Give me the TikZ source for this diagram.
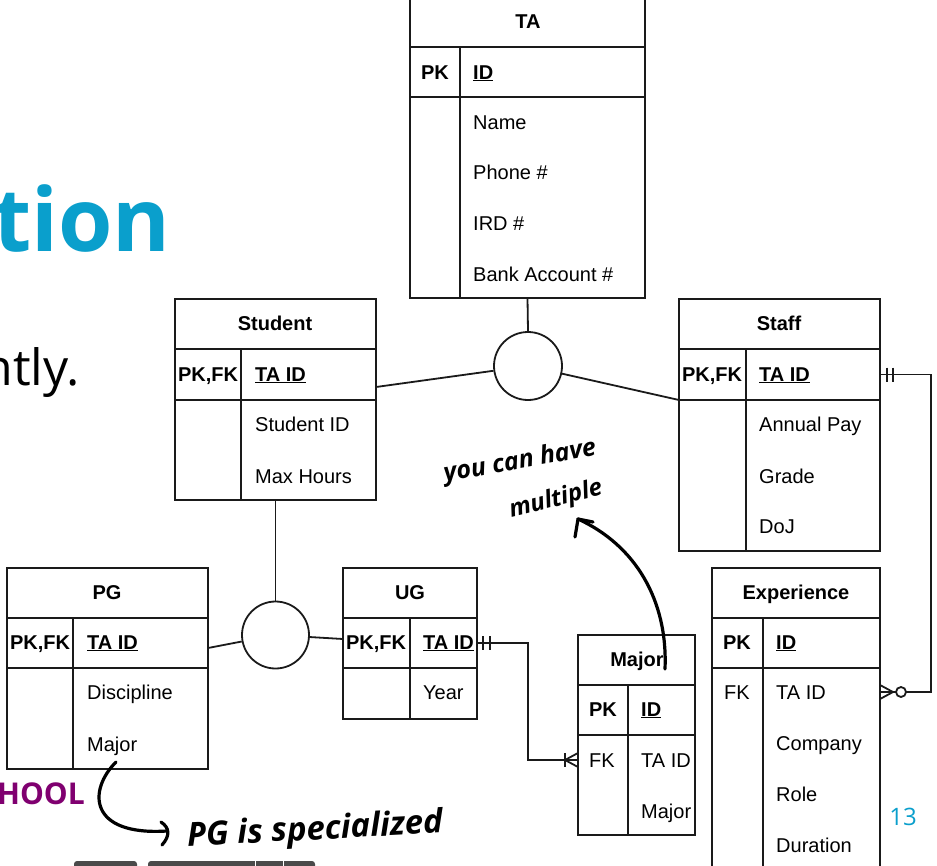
\documentclass[tikz,border=0pt]{standalone}
\usepackage{fontspec}
\setmainfont{Liberation Sans}
\newfontfamily\osans{Open Sans}
\usetikzlibrary{calc}
\definecolor{ln}{HTML}{1A1A1A}
\definecolor{cy}{HTML}{0A9FCC}
\definecolor{pu}{HTML}{800070}
\definecolor{tabc}{HTML}{4A4A4A}
\begin{document}
\begin{tikzpicture}[x=1pt,y=-1pt,
  box/.style={draw=ln,line width=1.8pt,anchor=north west,inner sep=0pt,outer sep=0pt},
  ttl/.style={font=\fontsize{20}{24}\selectfont\bfseries,inner sep=0pt,anchor=base},
  fld/.style={font=\fontsize{20}{24}\selectfont,inner sep=0pt,anchor=base west},
  con/.style={draw=ln,line width=1.8pt},
  hand/.style={font=\osans\bfseries\itshape,inner sep=0pt,text=black},
  hline/.style={draw=black,line width=3.2pt,line cap=round,line join=round}]
\useasboundingbox (0,0) rectangle (937,865);
\clip (0,0) rectangle (937,865);
\fill[white] (0,0) rectangle (937,865);

% background slide text
\node[font=\osans\bfseries\fontsize{88}{90}\selectfont,text=cy,inner sep=0pt,anchor=base east] (tion) at (171,251) {tion};
\node[font=\osans\fontsize{50}{52}\selectfont,inner sep=0pt,anchor=base east] (ntly) at (80,385) {ntly.};
\node[font=\osans\bfseries\fontsize{30}{32}\selectfont,text=pu,inner sep=0pt,anchor=base east] (hool) at (85,804) {HOOL};
\node[font=\osans\fontsize{24}{26}\selectfont,text=cy,inner sep=0pt,anchor=base] (pnum) at (903,825) {13};
\fill[tabc,rounded corners=3pt] (74,861) rectangle (137,875);
\fill[tabc,rounded corners=3pt] (148,861) rectangle (315,875);
\draw[white,line width=0.8pt] (255,861) -- (255,866) (283,861) -- (283,866);

% TA
\node[box,minimum width=235pt,minimum height=50pt] (tahdr) at (410,-3) {};
\node[box,minimum width=235pt,minimum height=50pt] (tapk) at (410,47) {};
\node[box,minimum width=235pt,minimum height=201pt] (tabody) at (410,97) {};
\draw[con] (460,47) -- (460,298);
\node[ttl] (tat) at (528,28) {TA};
\node[ttl] (tak) at (435,79) {PK};
\node[fld,font=\fontsize{20}{24}\selectfont\bfseries] (taid) at (473,79) {\underline{ID}};
\node[fld] (ta1) at (473,129) {Name};
\node[fld] (ta2) at (473,179) {Phone \#};
\node[fld] (ta3) at (473,230) {IRD \#};
\node[fld] (ta4) at (473,281) {Bank Account \#};

% Student
\node[box,minimum width=201pt,minimum height=50pt] (sthdr) at (175,299) {};
\node[box,minimum width=201pt,minimum height=51pt] (stpk) at (175,349) {};
\node[box,minimum width=201pt,minimum height=100pt] (stbody) at (175,400) {};
\draw[con] (241,349) -- (241,500);
\node[ttl] (stt) at (275,330) {Student};
\node[ttl] (stk) at (208,381) {PK,FK};
\node[fld,font=\fontsize{20}{24}\selectfont\bfseries] (stid) at (255,381) {\underline{TA ID}};
\node[fld] (st1) at (255,431) {Student ID};
\node[fld] (st2) at (255,483) {Max Hours};

% Staff
\node[box,minimum width=201pt,minimum height=50pt] (sfhdr) at (679,299) {};
\node[box,minimum width=201pt,minimum height=51pt] (sfpk) at (679,349) {};
\node[box,minimum width=201pt,minimum height=151pt] (sfbody) at (679,400) {};
\draw[con] (746,349) -- (746,551);
\node[ttl] (sft) at (779,330) {Staff};
\node[ttl] (sfk) at (712,381) {PK,FK};
\node[fld,font=\fontsize{20}{24}\selectfont\bfseries] (sfid) at (759,381) {\underline{TA ID}};
\node[fld] (sf1) at (759,431) {Annual Pay};
\node[fld] (sf2) at (759,483) {Grade};
\node[fld] (sf3) at (759,533) {DoJ};

% PG
\node[box,minimum width=201pt,minimum height=50pt] (pghdr) at (7,568) {};
\node[box,minimum width=201pt,minimum height=50pt] (pgpk) at (7,618) {};
\node[box,minimum width=201pt,minimum height=101pt] (pgbody) at (7,668) {};
\draw[con] (73,618) -- (73,769);
\node[ttl] (pgt) at (107,599) {PG};
\node[ttl] (pgk) at (40,649) {PK,FK};
\node[fld,font=\fontsize{20}{24}\selectfont\bfseries] (pgid) at (87,649) {\underline{TA ID}};
\node[fld] (pg1) at (87,699) {Discipline};
\node[fld] (pg2) at (87,751) {Major};

% UG
\node[box,minimum width=134pt,minimum height=50pt] (ughdr) at (343,568) {};
\node[box,minimum width=134pt,minimum height=50pt] (ugpk) at (343,618) {};
\node[box,minimum width=134pt,minimum height=51pt] (ugbody) at (343,668) {};
\draw[con] (410,618) -- (410,719);
\node[ttl] (ugt) at (410,599) {UG};
\node[ttl] (ugk) at (376,649) {PK,FK};
\node[fld,font=\fontsize{20}{24}\selectfont\bfseries] (ugid) at (423,649) {\underline{TA ID}};
\node[fld] (ug1) at (423,699) {Year};

% Major
\node[box,minimum width=117pt,minimum height=50pt] (mjhdr) at (578,635) {};
\node[box,minimum width=117pt,minimum height=50pt] (mjpk) at (578,685) {};
\node[box,minimum width=117pt,minimum height=100pt] (mjbody) at (578,735) {};
\draw[con] (628,685) -- (628,835);
\node[ttl] (mjt) at (637,666) {Major};
\node[ttl] (mjk) at (603,716) {PK};
\node[fld,font=\fontsize{20}{24}\selectfont\bfseries] (mjid) at (641,716) {\underline{ID}};
\node[ttl,font=\fontsize{20}{24}\selectfont] (mjf) at (602,767) {FK};
\node[fld] (mj1) at (641,767) {TA ID};
\node[fld] (mj2) at (641,818) {Major};

% Experience
\node[box,minimum width=168pt,minimum height=50pt] (exhdr) at (712,568) {};
\node[box,minimum width=168pt,minimum height=50pt] (expk) at (712,618) {};
\node[box,minimum width=168pt,minimum height=230pt] (exbody) at (712,668) {};
\draw[con] (763,618) -- (763,900);
\node[ttl] (ext) at (796,599) {Experience};
\node[ttl] (exk) at (737,649) {PK};
\node[fld,font=\fontsize{20}{24}\selectfont\bfseries] (exid) at (776,649) {\underline{ID}};
\node[ttl,font=\fontsize{20}{24}\selectfont] (exf) at (737,699) {FK};
\node[fld] (ex1) at (776,699) {TA ID};
\node[fld] (ex2) at (776,750) {Company};
\node[fld] (ex3) at (776,801) {Role};
\node[fld] (ex4) at (776,852) {Duration};

% specialisation circles
\node[circle,draw=ln,line width=1.8pt,minimum size=68pt,inner sep=0pt] (c1) at (528,366) {};
\node[circle,draw=ln,line width=1.8pt,minimum size=67pt,inner sep=0pt] (c2) at (275.5,635) {};
\coordinate (stR) at (376,387);
\coordinate (pgR) at (208,648);
\coordinate (ugL) at (343,639);
\draw[con] (tabody.south) -- (c1.north);
\draw[con] (c1) -- (stR);
\draw[con] (c1) -- (sfpk.south west);
\draw[con] (stbody.south) -- (c2.north);
\draw[con] (c2) -- (pgR);
\draw[con] (c2) -- (ugL);

% UG -> Major (one and only one to one or many)
\coordinate (mjfk) at (578,760);
\draw[con] (ugpk.east) -- ++(51,0) |- (mjfk);
\draw[con] ($(ugpk.east)+(6,-7)$) -- ++(0,14);
\draw[con] ($(ugpk.east)+(13,-7)$) -- ++(0,14);
\draw[con] ($(mjfk)+(-13,-7)$) -- ++(0,14);
\draw[con] ($(mjfk)+(0,-7)$) -- ($(mjfk)+(-13,0)$) -- ($(mjfk)+(0,7)$);

% Staff -> Experience (one and only one to zero or many)
\coordinate (exfk) at (880,692);
\draw[con] (sfpk.east) -- ++(51,0) |- (exfk);
\draw[con] ($(sfpk.east)+(7,-7)$) -- ++(0,14);
\draw[con] ($(sfpk.east)+(13,-7)$) -- ++(0,14);
\draw[con] ($(exfk)+(0,-7)$) -- ($(exfk)+(13,0)$) -- ($(exfk)+(0,7)$);
\node[circle,draw=ln,fill=white,line width=1.8pt,minimum size=10pt,inner sep=0pt] (exo) at (901,692) {};

% handwritten notes
\node[hand,font=\osans\bfseries\itshape\fontsize{25}{26}\selectfont,rotate=10] (h1) at (520,462) {you can have};
\node[hand,font=\osans\bfseries\itshape\fontsize{24}{26}\selectfont,rotate=14] (h2) at (556,500) {multiple};
\node[hand,font=\osans\bfseries\itshape\fontsize{33}{35}\selectfont,rotate=3] (h3) at (315,831) {PG is specialized};
\coordinate (a1s) at (665,669);
\coordinate (a1e) at (578,519);
\draw[hline] (a1s) .. controls (668,600) and (635,545) .. (a1e);
\draw[hline] (575,537) -- (a1e) -- (593,522);
\coordinate (a2s) at (116,762);
\coordinate (a2e) at (167,831);
\draw[hline] (a2s) .. controls (88,790) and (88,836) .. (a2e);
\draw[hline] (161,822) .. controls (170,828) and (170,836) .. (162,845);
\end{tikzpicture}
\end{document}
